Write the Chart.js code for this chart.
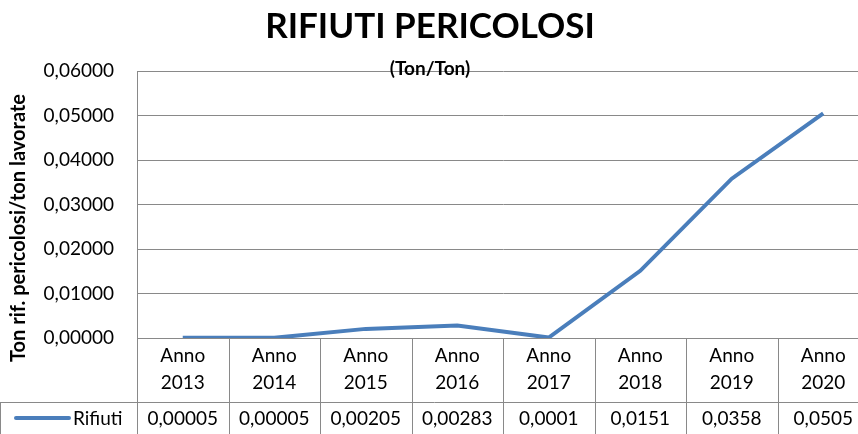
<!DOCTYPE html>
<html lang="it">
<head>
  <meta charset="UTF-8">
  <title>Rifiuti pericolosi</title>
  <style>
    html, body { margin: 0; padding: 0; overflow: hidden; background: #fff; }
    canvas { display: block; }
  </style>
  <script src="https://cdn.jsdelivr.net/npm/chart.js"></script>
</head>
<body>
  <canvas id="rifiutiChart" width="869" height="434"></canvas>
  <script>
    // dati
    const years = ['2013', '2014', '2015', '2016', '2017', '2018', '2019', '2020'];
    const labelPrefix = 'Anno';
    const rifiuti = [0.00005, 0.00005, 0.00205, 0.00283, 0.0001, 0.0151, 0.0358, 0.0505];
    const seriesName = 'Rifiuti';
    const yMin = 0, yMax = 0.06, yStep = 0.01;

    const titleText = 'RIFIUTI PERICOLOSI';
    const subtitleText = '(Ton/Ton)';
    const yTitleText = 'Ton rif. pericolosi/ton lavorate';

    const FONT = 'Lato, "Open Sans", sans-serif';
    const GRID = '#898989';
    const BLUE = '#4A7EBB';

    const itNum = v => String(v).replace('.', ',');

    // tabella dati sotto l'asse, titoli
    const tablePlugin = {
      id: 'tablePlugin',
      afterDraw(chart) {
        const ctx = chart.ctx;
        const x = chart.scales.x;
        const area = chart.chartArea;
        const W = chart.width, H = chart.height;
        const colW = (x.right - x.left) / years.length;
        const rowY = 402;

        ctx.save();
        ctx.strokeStyle = GRID;
        ctx.lineWidth = 1;
        ctx.beginPath();
        for (let i = 0; i <= years.length; i++) {
          const px = Math.round(x.left + i * colW) + 0.5;
          ctx.moveTo(px, area.bottom);
          ctx.lineTo(px, H);
        }
        ctx.moveTo(0, rowY + 0.5);
        ctx.lineTo(W, rowY + 0.5);
        ctx.moveTo(0.5, rowY);
        ctx.lineTo(0.5, H);
        ctx.stroke();

        // valori
        ctx.fillStyle = '#000';
        ctx.font = '19px ' + FONT;
        ctx.textAlign = 'center';
        ctx.textBaseline = 'middle';
        rifiuti.forEach((v, i) => {
          ctx.fillText(itNum(v), x.getPixelForValue(i), 419);
        });

        // legenda
        ctx.strokeStyle = BLUE;
        ctx.lineWidth = 4;
        ctx.lineCap = 'round';
        ctx.beginPath();
        ctx.moveTo(16, 418);
        ctx.lineTo(69, 418);
        ctx.stroke();
        ctx.textAlign = 'left';
        ctx.fillText(seriesName, 73, 419);

        // titoli
        ctx.font = 'bold 35px ' + FONT;
        ctx.textAlign = 'center';
        ctx.fillText(titleText, 430, 27);
        ctx.font = 'bold 19px ' + FONT;
        ctx.fillText(subtitleText, 430, 69);

        ctx.translate(19, 228);
        ctx.rotate(-Math.PI / 2);
        ctx.font = 'bold 20px ' + FONT;
        ctx.fillText(yTitleText, 0, 0);
        ctx.restore();
      }
    };

    new Chart(document.getElementById('rifiutiChart'), {
      type: 'line',
      data: {
        labels: years.map(y => [labelPrefix, y]),
        datasets: [{
          label: seriesName,
          data: rifiuti,
          borderColor: BLUE,
          backgroundColor: BLUE,
          borderWidth: 4,
          pointRadius: 0,
          tension: 0,
          fill: false
        }]
      },
      options: {
        responsive: false,
        animation: false,
        layout: { padding: { top: 71, right: 0, left: 0, bottom: 0 } },
        plugins: {
          legend: { display: false },
          title: { display: false },
          tooltip: { enabled: false }
        },
        scales: {
          x: {
            offset: true,
            afterFit(scale) { scale.height = 96; },
            grid: { display: true, drawOnChartArea: false, drawTicks: false, color: GRID },
            border: { display: true, color: GRID },
            ticks: {
              color: '#000',
              font: { family: FONT, size: 19, lineHeight: 1.4 },
              padding: 5,
              maxRotation: 0,
              autoSkip: false
            }
          },
          y: {
            min: yMin,
            max: yMax,
            afterFit(scale) { scale.width = 137; },
            grid: { color: GRID, drawTicks: false },
            border: { display: true, color: GRID },
            ticks: {
              stepSize: yStep,
              color: '#000',
              padding: 23,
              font: { family: FONT, size: 19 },
              callback: v => v.toFixed(5).replace('.', ',')
            }
          }
        }
      },
      plugins: [tablePlugin]
    });
  </script>
</body>
</html>
